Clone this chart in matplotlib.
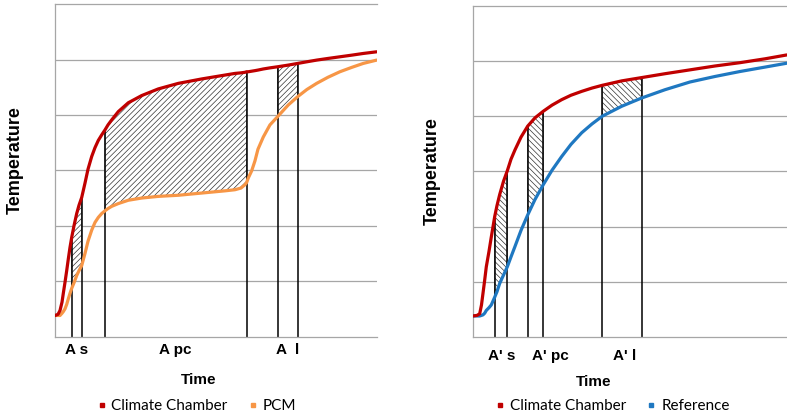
import numpy as np
import matplotlib.pyplot as plt
from matplotlib.lines import Line2D

# left panel: climate chamber vs PCM
t_left = [0, 3, 5, 7, 8.3, 10, 11.7, 13.3, 15, 16.7, 19, 21.7, 24, 26.7, 30, 33, 36.7,
          40, 43.3, 46.7, 50, 53, 56.7, 63.3, 73.3, 86.7, 103.3, 123.3, 146.7, 170,
          180, 186, 190, 191.7, 193.3, 196.7, 200, 203, 208.3, 215, 222.7, 233.3,
          242.7, 252, 261.7, 273, 285, 297, 308.3, 321.7]
chamber_left = [0.38, 0.40, 0.47, 0.62, 0.78, 0.98, 1.19, 1.40, 1.61, 1.79, 2.00, 2.22,
                2.37, 2.51, 2.77, 3.02, 3.25, 3.41, 3.54, 3.64, 3.73, 3.82, 3.91, 4.06,
                4.22, 4.35, 4.47, 4.57, 4.65, 4.72, 4.75, 4.76, 4.77, 4.78, 4.78, 4.79,
                4.80, 4.81, 4.83, 4.85, 4.87, 4.90, 4.93, 4.96, 4.99, 5.02, 5.05, 5.08,
                5.11, 5.14]
pcm = [0.38, 0.38, 0.38, 0.42, 0.45, 0.50, 0.58, 0.68, 0.78, 0.87, 0.97, 1.10,
       1.19, 1.28, 1.50, 1.72, 1.92, 2.06, 2.15, 2.22, 2.27, 2.31, 2.35, 2.40,
       2.46, 2.50, 2.53, 2.55, 2.59, 2.63, 2.65, 2.68, 2.74, 2.78, 2.86, 2.99,
       3.17, 3.38, 3.60, 3.82, 3.97, 4.18, 4.33, 4.46, 4.57, 4.68, 4.78, 4.86,
       4.93, 4.99]
areas_left = [(16.7, 26.7), (50, 191.7), (222.7, 242.7)]
labels_left = ["A s", "A pc", "A  l"]
label_pos_left = [22, 120, 233]

# right panel: climate chamber vs reference
t_right = [0, 4, 6.7, 8.5, 10, 11.7, 13.3, 16, 18.3, 21.7, 24, 26.7, 30.5, 34.3, 38,
           42, 48, 54.7, 62, 70.3, 79, 88.7, 98, 108.7, 119, 129.3, 148.7, 168.7,
           192, 217, 242, 267, 292, 313.7]
chamber_right = [0.38, 0.39, 0.42, 0.58, 0.79, 1.03, 1.27, 1.55, 1.81, 2.18, 2.38, 2.58,
                 2.82, 3.01, 3.22, 3.39, 3.62, 3.82, 3.97, 4.09, 4.20, 4.30, 4.38, 4.45,
                 4.51, 4.56, 4.64, 4.70, 4.77, 4.84, 4.91, 4.97, 5.04, 5.11]
reference = [0.38, 0.38, 0.38, 0.39, 0.40, 0.43, 0.48, 0.53, 0.58, 0.72, 0.82, 0.97,
             1.12, 1.27, 1.45, 1.64, 1.93, 2.21, 2.49, 2.76, 3.02, 3.27, 3.49, 3.70,
             3.86, 4.00, 4.18, 4.33, 4.48, 4.62, 4.72, 4.81, 4.89, 4.96]
areas_right = [(21.7, 34.3), (54.7, 70.3), (129.3, 168.7)]
labels_right = ["A' s", "A' pc", "A' l"]
label_pos_right = [29, 77, 152]

red = '#C00000'
orange = '#F79646'
blue = '#1F78C1'
grid = '#A6A6A6'

plt.rcParams['hatch.linewidth'] = 0.5

fig = plt.figure(figsize=(7.87, 4.17), dpi=100)
ax1 = fig.add_axes([0.0699, 0.193, 0.409, 0.797])
ax2 = fig.add_axes([0.601, 0.192, 0.399, 0.794])


def panel(ax, t, top, low, low_color, low_name, areas, hatch, labels, label_pos,
          xmax, pad, legend_x):
    t = np.array(t)
    top = np.array(top)
    low = np.array(low)
    for a, b in areas:
        m = (t >= a - 0.01) & (t <= b + 0.01)
        ax.fill_between(t, low, top, where=m, facecolor='white', edgecolor='#333333',
                        hatch=hatch, linewidth=0.5, zorder=1)
    bounds = [v for ab in areas for v in ab]
    ax.vlines(bounds, 0, np.interp(bounds, t, top), color='black', lw=1.1, zorder=2)
    ax.plot(t, low, color=low_color, lw=2.3, zorder=3, solid_capstyle='round')
    ax.plot(t, top, color=red, lw=2.3, zorder=4, solid_capstyle='round')

    ax.set_xlim(0, xmax)
    ax.set_ylim(0, 6)
    ax.set_yticks(range(1, 6))
    ax.set_yticklabels([])
    ax.grid(axis='y', color=grid, lw=0.9)
    ax.set_axisbelow(True)
    ax.tick_params(axis='y', length=0)
    ax.set_xticks(label_pos, labels, fontsize=11, fontweight='bold',
                  family='Liberation Sans')
    ax.tick_params(axis='x', length=0, pad=pad)
    for s in ['left', 'bottom', 'top']:
        ax.spines[s].set_color(grid)
        ax.spines[s].set_linewidth(0.9)
    ax.spines['right'].set_visible(False)

    ax.set_xlabel('Time', fontsize=11, fontweight='bold', family='Liberation Sans')
    ax.set_ylabel('Temperature', fontsize=13, fontweight='bold', family='Liberation Sans')

    handles = [Line2D([], [], marker='s', ls='', color=red, markersize=2.2),
               Line2D([], [], marker='s', ls='', color=low_color, markersize=2.2)]
    fig.legend(handles, ['Climate Chamber', low_name], loc='center',
               bbox_to_anchor=(legend_x, 0.026), ncol=2, frameon=False,
               handlelength=0.5, handletextpad=0.4, columnspacing=1.4,
               prop={'family': 'Lato', 'size': 11})


panel(ax1, t_left, chamber_left, pcm, orange, 'PCM', areas_left, '//////',
      labels_left, label_pos_left, 322, 5, 197 / 787)
panel(ax2, t_right, chamber_right, reference, blue, 'Reference', areas_right, '\\\\\\\\\\\\',
      labels_right, label_pos_right, 314, 9, 613 / 787)

ax1.xaxis.set_label_coords(0.447, -0.131)
ax1.yaxis.set_label_coords(-0.124, 0.53)
ax2.xaxis.set_label_coords(0.385, -0.137)
ax2.yaxis.set_label_coords(-0.131, 0.50)
for ax in (ax1, ax2):
    ax.xaxis.label.set_va('center')
    ax.yaxis.label.set_va('center')

fig.savefig('out.png', dpi=100)
